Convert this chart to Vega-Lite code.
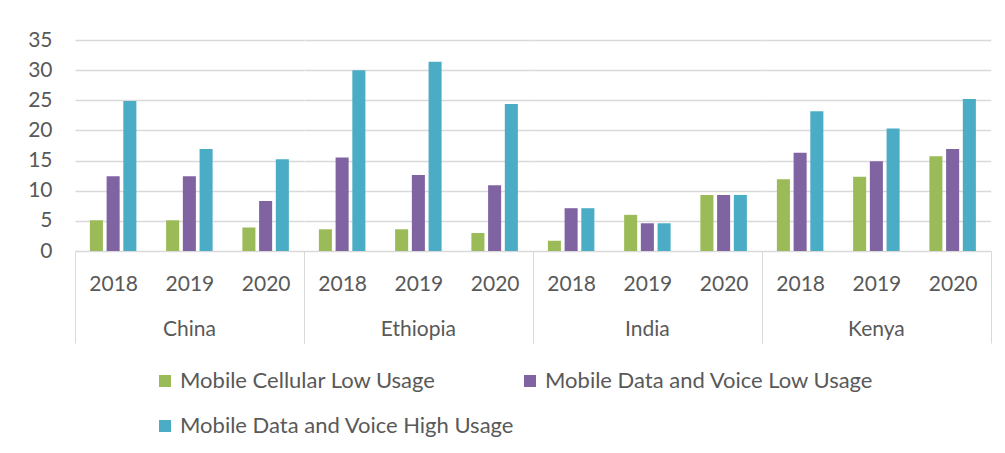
{
  "$schema": "https://vega.github.io/schema/vega-lite/v6.json",
  "padding": {"left": 27, "top": 29, "right": 10, "bottom": 5},
  "data": {"values": [
    {"country": "China", "year": "2018", "series": "Mobile Cellular Low Usage", "value": 5.1},
    {"country": "China", "year": "2018", "series": "Mobile Data and Voice Low Usage", "value": 12.4},
    {"country": "China", "year": "2018", "series": "Mobile Data and Voice High Usage", "value": 24.9},
    {"country": "China", "year": "2019", "series": "Mobile Cellular Low Usage", "value": 5.1},
    {"country": "China", "year": "2019", "series": "Mobile Data and Voice Low Usage", "value": 12.4},
    {"country": "China", "year": "2019", "series": "Mobile Data and Voice High Usage", "value": 16.9},
    {"country": "China", "year": "2020", "series": "Mobile Cellular Low Usage", "value": 3.9},
    {"country": "China", "year": "2020", "series": "Mobile Data and Voice Low Usage", "value": 8.3},
    {"country": "China", "year": "2020", "series": "Mobile Data and Voice High Usage", "value": 15.2},
    {"country": "Ethiopia", "year": "2018", "series": "Mobile Cellular Low Usage", "value": 3.6},
    {"country": "Ethiopia", "year": "2018", "series": "Mobile Data and Voice Low Usage", "value": 15.5},
    {"country": "Ethiopia", "year": "2018", "series": "Mobile Data and Voice High Usage", "value": 30.0},
    {"country": "Ethiopia", "year": "2019", "series": "Mobile Cellular Low Usage", "value": 3.6},
    {"country": "Ethiopia", "year": "2019", "series": "Mobile Data and Voice Low Usage", "value": 12.6},
    {"country": "Ethiopia", "year": "2019", "series": "Mobile Data and Voice High Usage", "value": 31.4},
    {"country": "Ethiopia", "year": "2020", "series": "Mobile Cellular Low Usage", "value": 3.0},
    {"country": "Ethiopia", "year": "2020", "series": "Mobile Data and Voice Low Usage", "value": 10.9},
    {"country": "Ethiopia", "year": "2020", "series": "Mobile Data and Voice High Usage", "value": 24.4},
    {"country": "India", "year": "2018", "series": "Mobile Cellular Low Usage", "value": 1.7},
    {"country": "India", "year": "2018", "series": "Mobile Data and Voice Low Usage", "value": 7.1},
    {"country": "India", "year": "2018", "series": "Mobile Data and Voice High Usage", "value": 7.1},
    {"country": "India", "year": "2019", "series": "Mobile Cellular Low Usage", "value": 6.0},
    {"country": "India", "year": "2019", "series": "Mobile Data and Voice Low Usage", "value": 4.6},
    {"country": "India", "year": "2019", "series": "Mobile Data and Voice High Usage", "value": 4.6},
    {"country": "India", "year": "2020", "series": "Mobile Cellular Low Usage", "value": 9.3},
    {"country": "India", "year": "2020", "series": "Mobile Data and Voice Low Usage", "value": 9.3},
    {"country": "India", "year": "2020", "series": "Mobile Data and Voice High Usage", "value": 9.3},
    {"country": "Kenya", "year": "2018", "series": "Mobile Cellular Low Usage", "value": 11.9},
    {"country": "Kenya", "year": "2018", "series": "Mobile Data and Voice Low Usage", "value": 16.3},
    {"country": "Kenya", "year": "2018", "series": "Mobile Data and Voice High Usage", "value": 23.2},
    {"country": "Kenya", "year": "2019", "series": "Mobile Cellular Low Usage", "value": 12.3},
    {"country": "Kenya", "year": "2019", "series": "Mobile Data and Voice Low Usage", "value": 14.9},
    {"country": "Kenya", "year": "2019", "series": "Mobile Data and Voice High Usage", "value": 20.3},
    {"country": "Kenya", "year": "2020", "series": "Mobile Cellular Low Usage", "value": 15.7},
    {"country": "Kenya", "year": "2020", "series": "Mobile Data and Voice Low Usage", "value": 16.9},
    {"country": "Kenya", "year": "2020", "series": "Mobile Data and Voice High Usage", "value": 25.2}
  ]},
  "facet": {
    "column": {
      "field": "country",
      "type": "nominal",
      "sort": ["China", "Ethiopia", "India", "Kenya"],
      "title": null,
      "header": {
        "labelOrient": "bottom",
        "labelFontSize": 21,
        "labelColor": "#595959",
        "labelPadding": -25
      }
    }
  },
  "spacing": 0,
  "spec": {
    "width": 228.75,
    "height": 211,
    "mark": {"type": "bar"},
    "encoding": {
      "x": {
        "field": "year",
        "type": "ordinal",
        "scale": {"paddingInner": 0, "paddingOuter": 0},
        "axis": {
          "title": null,
          "labelAngle": 0,
          "labelFontSize": 21,
          "labelColor": "#595959",
          "domainColor": "#d9d9d9",
          "tickColor": "#d9d9d9",
          "tickBand": "extent",
          "tickSize": 92,
          "tickOpacity": {"condition": {"test": "datum.value == 2020 || datum.extra || datum.index === 1", "value": 1}, "value": 0},
          "labelPadding": -70
        }
      },
      "xOffset": {
        "field": "series",
        "sort": ["Mobile Cellular Low Usage", "Mobile Data and Voice Low Usage", "Mobile Data and Voice High Usage"],
        "scale": {"paddingInner": 0.22, "paddingOuter": 0.89}
      },
      "y": {
        "field": "value",
        "type": "quantitative",
        "scale": {"domain": [0, 35]},
        "axis": {
          "title": null,
          "values": [0, 5, 10, 15, 20, 25, 30, 35],
          "domain": false,
          "ticks": false,
          "gridColor": "#d9d9d9",
          "gridWidth": 1.3,
          "labelPadding": 23,
          "labelFontSize": 21,
          "labelColor": "#595959"
        }
      },
      "color": {
        "field": "series",
        "type": "nominal",
        "sort": ["Mobile Cellular Low Usage", "Mobile Data and Voice Low Usage", "Mobile Data and Voice High Usage"],
        "scale": {
          "domain": ["Mobile Cellular Low Usage", "Mobile Data and Voice Low Usage", "Mobile Data and Voice High Usage"],
          "range": ["#9BBB59", "#8064A2", "#4BACC6"]
        },
        "legend": {
          "title": null,
          "orient": "none",
          "direction": "horizontal",
          "legendX": 79,
          "legendY": 330,
          "columns": 2,
          "columnPadding": 4,
          "rowPadding": 23,
          "symbolType": "square",
          "symbolSize": 144,
          "symbolStrokeWidth": 0,
          "labelFontSize": 22,
          "labelColor": "#595959",
          "labelLimit": 500
        }
      }
    }
  },
  "config": {
    "font": "Lato",
    "view": {"stroke": null},
    "axis": {"gridColor": "#d9d9d9"}
  }
}
